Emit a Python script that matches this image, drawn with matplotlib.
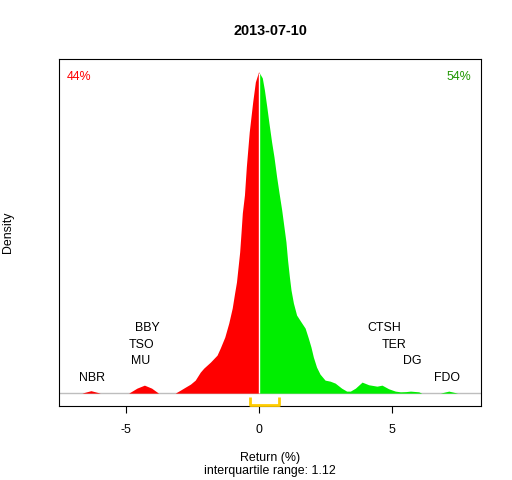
import numpy as np
import matplotlib
matplotlib.use("Agg")
import matplotlib.pyplot as plt

plt.rcParams['font.family'] = ['Liberation Sans', 'DejaVu Sans']

# ---- data ----
title = "2013-07-10"
ret_x = [-6.67, -6.33, -5.98, -4.91, -4.60, -4.32, -4.05, -3.79,
         -3.16, -2.97, -2.78, -2.59, -2.41, -2.22, -2.09, -1.84, -1.59, -1.47,
         -1.30, -1.15, -1.02, -0.93, -0.86, -0.80, -0.74, -0.69, -0.64, -0.56,
         -0.49, -0.38, -0.25, -0.15, -0.03, 0.00,
         0.11, 0.19, 0.28, 0.36, 0.46, 0.55, 0.65, 0.74, 0.84, 0.93, 1.00,
         1.06, 1.13, 1.19, 1.28, 1.40, 1.57, 1.72, 1.84, 1.94, 2.03, 2.15,
         2.28, 2.47, 2.66, 2.85, 3.09, 3.28, 3.42, 3.61, 3.86, 4.11, 4.42,
         4.61, 4.86, 5.11, 5.30, 5.50, 5.68, 5.99, 6.10, 6.80, 7.12, 7.45]
density = [0.0, 0.0039, 0.0, 0.0, 0.0079, 0.0126, 0.0079, 0.0,
           0.0, 0.0047, 0.0095, 0.0142, 0.0205, 0.0331, 0.0394, 0.0489, 0.0599, 0.0710,
           0.0883, 0.1104, 0.1341, 0.1577, 0.1751, 0.1987, 0.2224, 0.2524, 0.2839, 0.3123,
           0.3565, 0.4117, 0.4590, 0.4905, 0.5063, 0.5047,
           0.4968, 0.4779, 0.4511, 0.4259, 0.3959, 0.3722, 0.3407, 0.3155, 0.2886, 0.2603, 0.2382,
           0.2098, 0.1830, 0.1625, 0.1420, 0.1230, 0.1120, 0.1025, 0.0868, 0.0726, 0.0568, 0.0410,
           0.0300, 0.0205, 0.0189, 0.0158, 0.0079, 0.0032, 0.0032, 0.0079, 0.0174, 0.0132, 0.0110,
           0.0126, 0.0069, 0.0032, 0.0021, 0.0024, 0.0032, 0.0021, 0.0, 0.0, 0.0032, 0.0]

tickers = ["NBR", "MU", "TSO", "BBY", "CTSH", "TER", "DG", "FDO"]
ticker_returns = [-6.30, -4.47, -4.44, -4.20, 4.70, 5.05, 5.76, 7.07]
label_level = [1, 2, 3, 4, 4, 3, 2, 1]

pct_down = "44%"
pct_up = "54%"
q1, q3 = -0.37, 0.75
xticks = [-5, 0, 5]

# ---- plot ----
x = np.array(ret_x)
d = np.array(density)
peak = d.max()
fs = 8.9

fig = plt.figure(figsize=(5.12, 4.8), dpi=100)
ax = fig.add_axes([59/512, 1 - 406/480, 422/512, 347/480])

neg = x <= 0
pos = x >= 0
ax.fill_between(x[neg], 0, d[neg], color="#FF0000", linewidth=0, zorder=2)
ax.fill_between(x[pos], 0, d[pos], color="#00EE00", linewidth=0, zorder=2)
ax.vlines(0, 0, d[x == 0][0], color="white", linewidth=1.0, zorder=3)
ax.axhline(0, color="#BEBEBE", linewidth=1.0, zorder=1)

ax.set_xlim(-7.53, 8.33)
ax.set_ylim(-0.04 * peak, 1.04 * peak)

step = 0.0515 * peak
for t, r, lv in zip(tickers, ticker_returns, label_level):
    ax.text(r, lv * step - 0.004 * peak, t, ha="center", va="center", fontsize=fs, color="black", zorder=4)

ax.text(0.047, 0.947, pct_down, transform=ax.transAxes, ha="center", va="center",
        fontsize=fs, color="#FF0000")
ax.text(0.948, 0.947, pct_up, transform=ax.transAxes, ha="center", va="center",
        fontsize=fs, color="#1E9600")

# interquartile bracket
yb_top = -0.0125 * peak
yb_bot = -0.037 * peak
ax.plot([q1, q1, q3, q3], [yb_top, yb_bot, yb_bot, yb_top], color="#FFCC00",
        linewidth=2.0, clip_on=False, zorder=5, solid_joinstyle="round", solid_capstyle="butt")

ax.set_xticks(xticks)
ax.set_xticklabels([str(v) for v in xticks], fontsize=fs)
ax.tick_params(axis="x", length=5.2, width=0.8, pad=8)
ax.set_yticks([])
for s in ax.spines.values():
    s.set_linewidth(0.8)

fig.text(270/512, 1 - 31/480, title, ha="center", va="center", fontsize=10.4, fontweight="bold")
fig.text(270/512, 1 - 458/480, "Return (%)", ha="center", va="center", fontsize=fs)
fig.text(270/512, 1 - 471/480, "interquartile range: %.2f" % (q3 - q1), ha="center", va="center", fontsize=fs)
fig.text(8/512, 1 - 232.5/480, "Density", ha="center", va="center", rotation=90, fontsize=fs)

fig.savefig("out.png", dpi=100)
